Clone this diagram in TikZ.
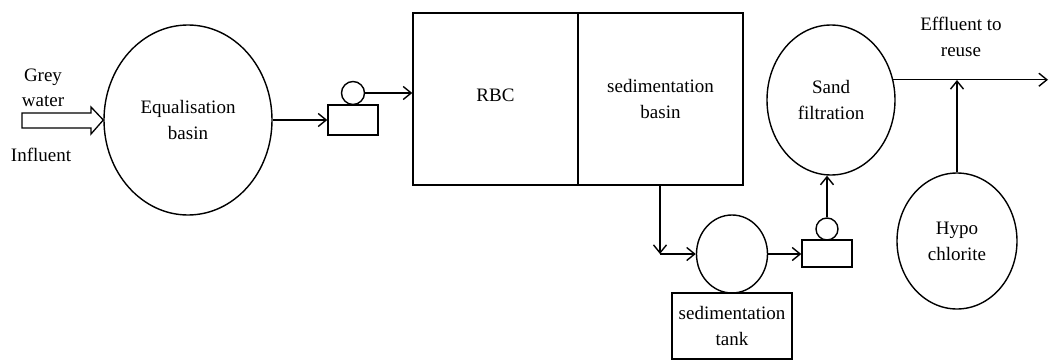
\documentclass[tikz,border=0pt]{standalone}
\usepackage{fontspec}
\setmainfont{Liberation Serif}
\usetikzlibrary{arrows.meta,shapes.geometric}
\begin{document}
\begin{tikzpicture}[x=1pt,y=-1pt,
  line width=1.4pt,
  txt/.style={font=\fontsize{19}{26}\selectfont, align=center, inner sep=0pt},
  vessel/.style={draw, ellipse, inner sep=0pt, txt},
  box/.style={draw, rectangle, inner sep=0pt, txt},
  flow/.style={-{Straight Barb[length=8pt,width=13pt,line width=1.4pt]}}
]
\useasboundingbox (0,0) rectangle (1050,361);
% Equalisation basin
\node[vessel, minimum width=168, minimum height=190] (eq) at (188,120) {Equalisation\\basin};
\node[txt] (grey) at (43,77) {Grey};
\node[txt] (water) at (43,101) {water};
\node[txt] (infl) at (41,155) {Influent};
\draw[line width=1.3pt] (22,113) -- (91,113) -- (91,107) -- (eq.west) -- (91,134) -- (91,128) -- (22,128) -- cycle;
% pump 1
\node[box, minimum width=50, minimum height=30] (p1) at (353,120) {};
\node[draw, circle, inner sep=0pt, minimum size=23] (p1c) at (353,93) {};
% RBC and sedimentation basin
\node[box, minimum width=165, minimum height=172] (rbc) at (495.5,99) {\raisebox{7pt}{RBC}};
\node[box, minimum width=165, minimum height=172] (sed) at (660.5,99) {sedimentation\\basin};
\draw[flow] (eq.east |- p1.west) -- (p1.west);
\draw[flow] (p1c.east) -- (p1c.east -| rbc.west);
% sedimentation tank
\node[vessel, minimum width=71, minimum height=78] (tank) at (732,254) {};
\node[box, minimum width=120, minimum height=66] (tanklbl) at (732,326) {sedimentation\\tank};
\coordinate (corner) at (660,254);
\draw[flow] (sed.south -| corner) -- (corner);
\draw[flow] (corner) -- (tank.west);
% pump 2
\node[box, minimum width=50, minimum height=27] (p2) at (827,253.5) {};
\node[draw, circle, inner sep=0pt, minimum size=22] (p2c) at (827,229) {};
\draw[flow] (tank.east) -- (tank.east -| p2.west);
% Sand filtration
\node[vessel, minimum width=128, minimum height=150] (sand) at (831,100) {Sand\\filtration};
\draw[flow] (p2c.north) -- (p2c.north |- sand.south);
% effluent
\coordinate (eff) at (1048,80);
\draw[flow] (sand.18) -- (sand.18 -| eff);
\node[txt] (efftxt) at (961,37) {Effluent to\\reuse};
% Hypo chlorite
\node[vessel, minimum width=120, minimum height=136] (hypo) at (957,241) {Hypo\\chlorite};
\draw[flow] (hypo.north) -- (hypo.north |- eff);
\end{tikzpicture}
\end{document}
